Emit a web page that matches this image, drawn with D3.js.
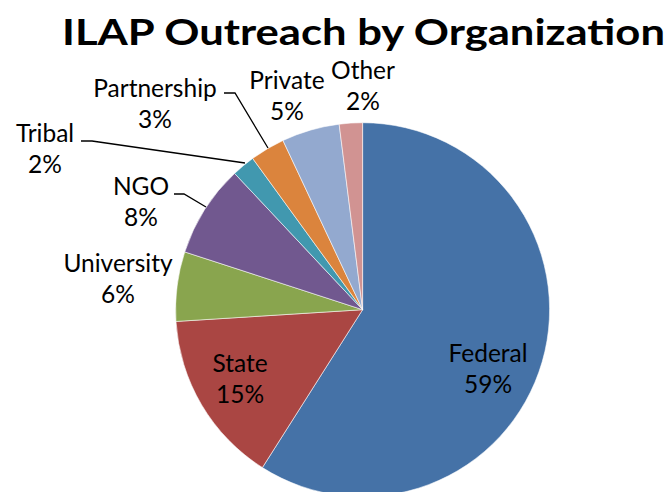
<!DOCTYPE html>
<html>
<head>
<meta charset="utf-8">
<script src="https://cdnjs.cloudflare.com/ajax/libs/d3/7.8.5/d3.min.js"></script>
<style>
  html, body { margin: 0; padding: 0; background: #fff; }
  svg { display: block; }
</style>
</head>
<body>
<svg id="chart" width="670" height="492"></svg>
<script>
const title = "ILAP Outreach by Organization";
const categories = ["Federal", "State", "University", "NGO", "Tribal", "Partnership", "Private", "Other"];
const values = [59, 15, 6, 8, 2, 3, 5, 2];
const colors = ["#4572A7", "#AA4643", "#89A54E", "#71588F", "#4198AF", "#DB843D", "#93A9CF", "#D19392"];

// label anchor points (center x, first-line baseline y) as placed in the original
const labelPos = [[488, 362], [240, 372], [118, 272], [141, 195], [45, 142], [155, 97], [287, 89], [363, 79]];
// leader lines: [label-side x, label-side y, bend x, slice-side x, slice-side y] (null = none)
const leaders = [null, null, null, [174, 194, 184, 206, 207], [81, 141, 92, 245, 163], [224, 93, 235, 268, 148], null, null];

const svg = d3.select("#chart");
const cx = 362.6, cy = 309.7, r = 187;

svg.append("text")
  .attr("x", 363.5).attr("y", 45)
  .attr("text-anchor", "middle")
  .attr("font-family", "Lato, 'Open Sans', sans-serif")
  .attr("font-weight", "bold")
  .attr("font-size", 36)
  .attr("textLength", 603)
  .attr("lengthAdjust", "spacingAndGlyphs")
  .attr("fill", "#000")
  .text(title);

const data = categories.map((c, i) => ({ name: c, value: values[i], color: colors[i] }));
const pie = d3.pie().value(d => d.value).sort(null);
const arc = d3.arc().innerRadius(0).outerRadius(r);

const g = svg.append("g").attr("transform", `translate(${cx},${cy})`);
g.selectAll("path")
  .data(pie(data))
  .join("path")
  .attr("d", arc)
  .attr("fill", d => d.data.color)
  .attr("stroke", "#ffffff")
  .attr("stroke-opacity", 0.7)
  .attr("stroke-width", 0.8);

// leader lines
data.forEach((d, i) => {
  const L = leaders[i];
  if (!L) return;
  svg.append("polyline")
    .attr("points", `${L[0]},${L[1]} ${L[2]},${L[1]} ${L[3]},${L[4]}`)
    .attr("fill", "none")
    .attr("stroke", "#000")
    .attr("stroke-width", 1.3);
});

const total = d3.sum(values);
data.forEach((d, i) => {
  const [x, y] = labelPos[i];
  const t = svg.append("text")
    .attr("text-anchor", "middle")
    .attr("font-family", "Lato, 'Open Sans', sans-serif")
    .attr("font-size", 24.5)
    .attr("fill", "#000");
  t.append("tspan").attr("x", x).attr("y", y).text(d.name);
  t.append("tspan").attr("x", x).attr("y", y + 31).text(Math.round(d.value / total * 100) + "%");
});
</script>
</body>
</html>
